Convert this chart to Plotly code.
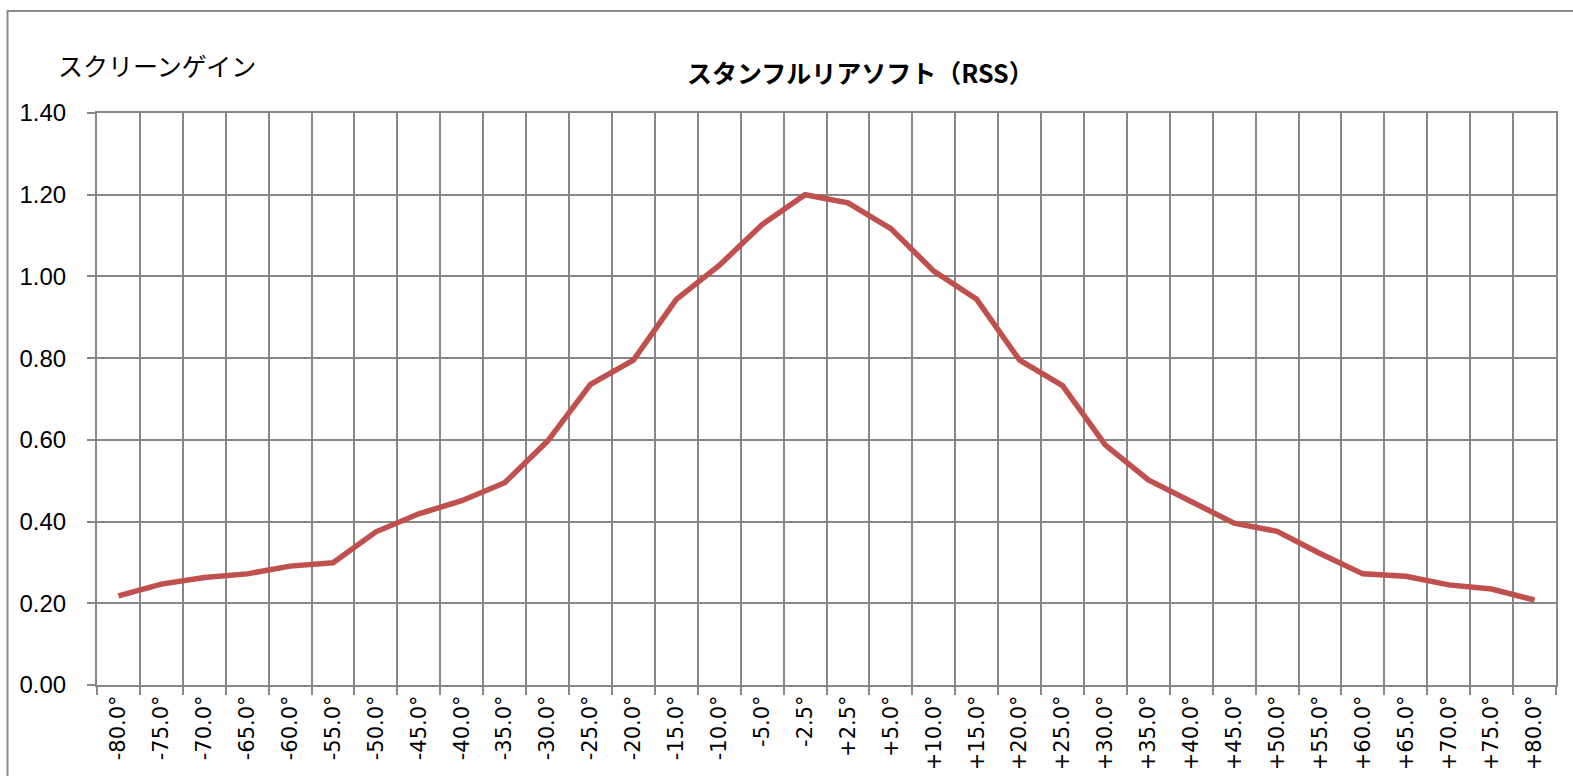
import plotly.graph_objects as go

angles = ["-80.0°", "-75.0°", "-70.0°", "-65.0°", "-60.0°", "-55.0°", "-50.0°", "-45.0°",
          "-40.0°", "-35.0°", "-30.0°", "-25.0°", "-20.0°", "-15.0°", "-10.0°", "-5.0°",
          "-2.5°", "+2.5°", "+5.0°", "+10.0°", "+15.0°", "+20.0°", "+25.0°", "+30.0°",
          "+35.0°", "+40.0°", "+45.0°", "+50.0°", "+55.0°", "+60.0°", "+65.0°", "+70.0°",
          "+75.0°", "+80.0°"]
gain = [0.218, 0.247, 0.263, 0.272, 0.291, 0.299, 0.375, 0.419,
        0.451, 0.495, 0.597, 0.736, 0.795, 0.944, 1.027, 1.127,
        1.200, 1.180, 1.117, 1.013, 0.944, 0.795, 0.733, 0.587,
        0.502, 0.449, 0.396, 0.376, 0.322, 0.272, 0.266, 0.245,
        0.235, 0.208]
y_ticks = [0.0, 0.2, 0.4, 0.6, 0.8, 1.0, 1.2, 1.4]

title_text = "スタンフルリアソフト（RSS）"
ytitle_text = "スクリーンゲイン"

W, H = 1573, 776
ml, mr, mt, mb = 97, 17, 113, 91
pw = W - ml - mr
ph = H - mt - mb

def px_x(x):
    return (x - ml) / pw

def px_y(y):
    return (H - mb - y) / ph

grid = "#878787"

fig = go.Figure()
fig.add_trace(go.Scatter(
    x=angles, y=gain, mode="lines",
    line=dict(color="#C0504D", width=5.5),
    showlegend=False, hoverinfo="x+y",
))

fig.update_layout(
    width=W, height=H,
    margin=dict(l=ml, r=mr, t=mt, b=mb),
    paper_bgcolor="white", plot_bgcolor="white",
    xaxis=dict(
        type="category", categoryorder="array", categoryarray=angles,
        range=[-0.5, len(angles) - 0.5],
        tickson="boundaries", ticks="outside", ticklen=8, tickwidth=2, tickcolor=grid,
        showgrid=True, gridcolor=grid, gridwidth=2,
        showline=True, linecolor=grid, linewidth=2, mirror=True,
        tickangle=-90,
        tickfont=dict(family="DejaVu Sans", size=21, color="black"),
        zeroline=False, fixedrange=True, automargin=False,
    ),
    yaxis=dict(
        range=[0, 1.4], tickvals=y_ticks, tickformat=".2f",
        ticks="outside", ticklen=8, tickwidth=2, tickcolor=grid,
        showgrid=True, gridcolor=grid, gridwidth=2,
        showline=True, linecolor=grid, linewidth=2, mirror=True,
        tickfont=dict(family="Liberation Sans", size=24, color="black"),
        zeroline=False, fixedrange=True, ticklabelstandoff=16, automargin=False,
    ),
    annotations=[
        dict(text="<b>" + title_text + "</b>", xref="paper", yref="paper",
             x=px_x(861), y=px_y(72), xanchor="center", yanchor="middle",
             showarrow=False,
             font=dict(family="Noto Sans CJK JP", size=25, color="black")),
        dict(text=ytitle_text, xref="paper", yref="paper",
             x=px_x(56), y=px_y(65), xanchor="left", yanchor="middle",
             showarrow=False,
             font=dict(family="Noto Sans CJK JP", size=25, color="black")),
    ],
    shapes=[
        dict(type="rect", xref="paper", yref="paper",
             x0=px_x(7.5), x1=px_x(1600), y0=px_y(800), y1=px_y(11),
             line=dict(color="#8c8c8c", width=2), fillcolor="rgba(0,0,0,0)",
             layer="below"),
    ],
)

fig.write_html(
    "out.html",
    config={"displayModeBar": False},
    post_script="document.body.style.margin='0';document.body.style.overflow='hidden';",
)
